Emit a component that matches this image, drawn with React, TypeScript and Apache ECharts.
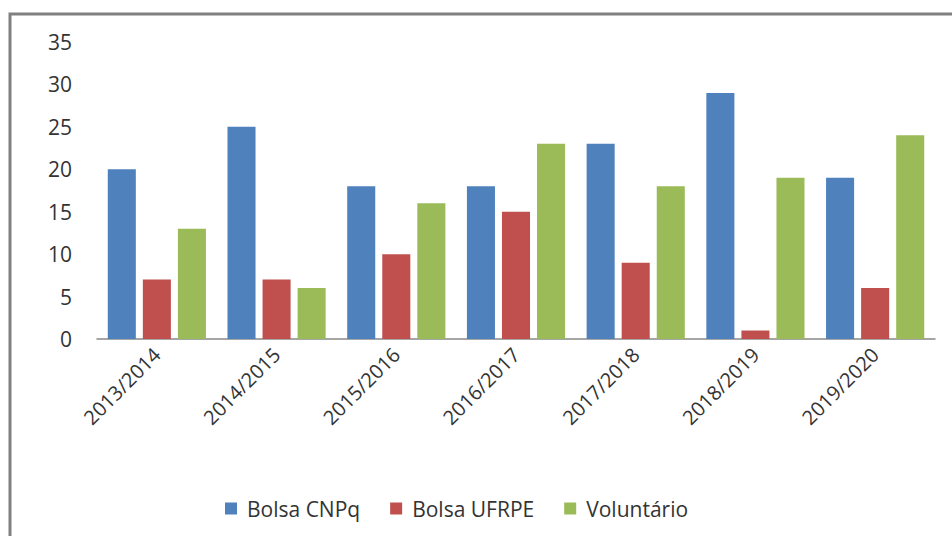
import React, { useEffect, useRef } from "react";
import * as echarts from "echarts";

const categories = ["2013/2014", "2014/2015", "2015/2016", "2016/2017", "2017/2018", "2018/2019", "2019/2020"];
const bolsaCNPq = [20, 25, 18, 18, 23, 29, 19];
const bolsaUFRPE = [7, 7, 10, 15, 9, 1, 6];
const voluntario = [13, 6, 16, 23, 18, 19, 24];
const seriesNames = ["Bolsa CNPq", "Bolsa UFRPE", "Voluntário"];
const colors = ["#4F81BD", "#C0504D", "#9BBB59"];

export default function App() {
  const ref = useRef<HTMLDivElement>(null);
  useEffect(() => {
    if (!ref.current) return;
    const chart = echarts.init(ref.current, null, { renderer: "svg" });
    const font = "'Open Sans', 'Noto Sans', sans-serif";
    const data = [bolsaCNPq, bolsaUFRPE, voluntario];
    chart.setOption({
      animation: false,
      backgroundColor: "#ffffff",
      color: colors,
      graphic: [
        {
          type: "rect",
          shape: { x: 10, y: 14, width: 1000, height: 600 },
          style: { fill: "none", stroke: "#808080", lineWidth: 3 },
          silent: true,
        },
      ],
      grid: { left: 97, right: 17, top: 42, bottom: 197, containLabel: false },
      legend: {
        bottom: 12,
        left: 220,
        itemWidth: 12,
        itemHeight: 12,
        itemGap: 30,
        icon: "rect",
        textStyle: { fontFamily: font, fontSize: 21, color: "#333333", padding: [0, 0, 0, 5] },
        data: seriesNames,
      },
      xAxis: {
        type: "category",
        data: categories,
        axisLine: { show: true, lineStyle: { color: "#888888", width: 1.5 } },
        axisTick: { show: false },
        axisLabel: {
          rotate: 45,
          margin: 12,
          interval: 0,
          fontFamily: font,
          fontSize: 20,
          color: "#333333",
        },
      },
      yAxis: {
        type: "value",
        min: 0,
        max: 35,
        interval: 5,
        axisLine: { show: false },
        axisTick: { show: false },
        splitLine: { show: false },
        axisLabel: { fontFamily: font, fontSize: 21, color: "#333333", margin: 25 },
      },
      series: seriesNames.map((name, i) => ({
        name,
        type: "bar",
        data: data[i],
        barGap: "25%",
        barCategoryGap: "18%",
        itemStyle: { color: colors[i] },
      })),
    });
    return () => chart.dispose();
  }, []);
  return (
    <div
      ref={ref}
      style={{ position: "fixed", left: 0, top: 0, width: 952, height: 536 }}
    />
  );
}
